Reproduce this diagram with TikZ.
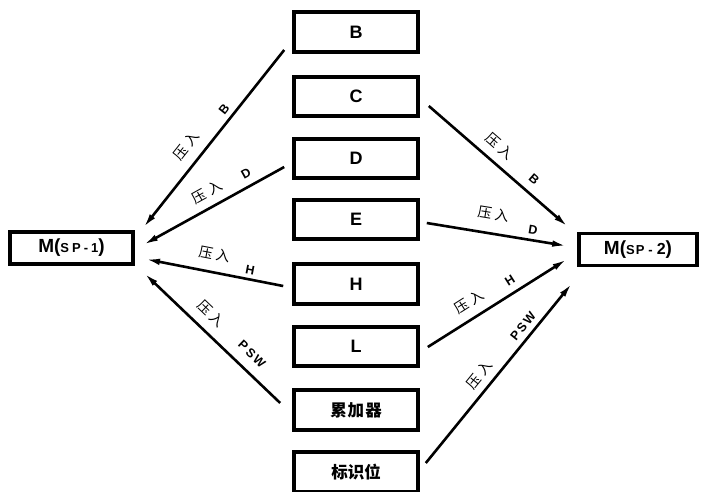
\documentclass[tikz,border=0pt]{standalone}
\usepackage{fontspec}
\setmainfont{Liberation Sans}
\newfontfamily\cjk{Noto Sans CJK SC}
\usetikzlibrary{arrows.meta,calc}

% push label: two characters set slightly apart
\newcommand\yaru{压\hspace{3.5pt}入}

\begin{document}
\begin{tikzpicture}[x=1pt,y=-1pt,
  reg/.style={draw, line width=3.6pt, minimum width=124pt, minimum height=39.5pt,
    inner sep=0pt, font=\fontsize{18}{20}\selectfont\bfseries},
  regcn/.style={reg, font=\cjk\bfseries\fontsize{16.5}{18}\selectfont},
  mem/.style={draw, line width=3.6pt, inner sep=0pt, minimum height=32pt},
  push/.style={line width=2.6pt, -{Latex[length=15pt,width=6.5pt]}},
  cnlab/.style={inner sep=0pt, font=\cjk\fontsize{14}{15}\selectfont},
  reglab/.style={inner sep=0pt, font=\fontsize{12.5}{13}\selectfont\bfseries},
]
\useasboundingbox (0,0) rectangle (703,491);

% register column
\node[reg]   (B)    at (356,32)    {B};
\node[reg]   (C)    at (356,96.5)  {C};
\node[reg]   (D)    at (356,158.5) {D};
\node[reg]   (E)    at (356,219.5) {E};
\node[reg]   (H)    at (356,284)   {H};
\node[reg]   (L)    at (356,346.5) {L};
\node[regcn] (acc)  at (356,410)   {累\hspace{1pt}加\hspace{1pt}器};
\node[regcn] (flag) at (356,472)   {标识位};

% stack memory cells
\node[mem, minimum width=123.5pt] (M1) at (71.5,248)
  {\bfseries\fontsize{19}{20}\selectfont M(\fontsize{13}{14}\selectfont
   S\kern3pt P\kern3pt -\kern3pt 1\fontsize{19}{20}\selectfont)};
\node[mem, minimum width=118pt] (M2) at (638,249.5)
  {\bfseries\fontsize{19}{20}\selectfont M(\fontsize{13}{14}\selectfont
   S\kern1pt P\kern4pt -\kern4pt \fontsize{16}{17}\selectfont 2\fontsize{19}{20}\selectfont)};

% arrow tips near the memory cells
\coordinate (t1) at ($(M1.east)+(8,-20)$);
\coordinate (t2) at ($(M1.east)+(8,-3)$);
\coordinate (t3) at ($(M1.east)+(10,11)$);
\coordinate (t4) at ($(M1.east)+(9,25)$);
\coordinate (u1) at ($(M2.west)+(-9,-22.5)$);
\coordinate (u2) at ($(M2.west)+(-10,-3.5)$);
\coordinate (u3) at ($(M2.west)+(-10,9.5)$);
\coordinate (u4) at ($(M2.west)+(-5,33.5)$);

% push connectors
\draw[push] ($(B.west)+(-8,18)$)   -- (t1);
\draw[push] ($(D.west)+(-8,8.5)$)  -- (t2);
\draw[push] ($(H.west)+(-9,2)$)    -- (t3);
\draw[push] ($(acc.west)+(-12,-7)$) -- (t4);
\draw[push] ($(C.east)+(9,9.5)$)   -- (u1);
\draw[push] ($(E.east)+(7,3.5)$)   -- (u2);
\draw[push] ($(L.east)+(8,0.5)$)   -- (u3);
\draw[push] ($(flag.east)+(6,-9)$) -- (u4);

% connector labels
\node[cnlab, rotate=51.6]  (a1) at (186,146) {\yaru};
\node[reglab, rotate=51.6] (b1) at (224,109) {B};
\node[cnlab, rotate=29]    (a2) at (207,192) {\yaru};
\node[reglab, rotate=29]   (b2) at (246,174) {D};
\node[cnlab, rotate=-11]   (a3) at (215,254) {\yaru};
\node[reglab, rotate=-11]  (b3) at (250,270) {H};
\node[cnlab, rotate=-43.7] (a4) at (211,314) {\yaru};
\node[reglab, rotate=-43.7](b4) at (252,354) {P\kern2pt S\kern2pt W};
\node[cnlab, rotate=-41]   (a5) at (500,146) {\yaru};
\node[reglab, rotate=-41]  (b5) at (534,179) {B};
\node[cnlab, rotate=-9.3]  (a6) at (494,214) {\yaru};
\node[reglab, rotate=-9.3] (b6) at (533,230) {D};
\node[cnlab, rotate=32.3]  (a7) at (469,302) {\yaru};
\node[reglab, rotate=32.3] (b7) at (510,280) {H};
\node[cnlab, rotate=51]    (a8) at (479,375) {\yaru};
\node[reglab, rotate=51]   (b8) at (523,326) {P\kern2pt S\kern2pt W};
\end{tikzpicture}
\end{document}
